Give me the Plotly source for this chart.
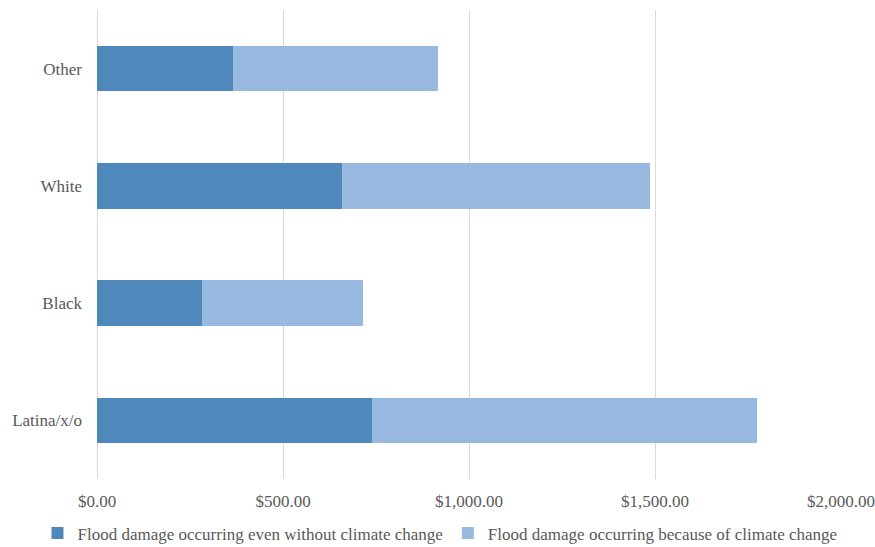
import plotly.graph_objects as go

categories = ["Latina/x/o", "Black", "White", "Other"]
without_cc = [739, 283, 658, 365]
because_cc = [1036, 433, 829, 552]
series_names = ["Flood damage occurring even without climate change",
                "Flood damage occurring because of climate change"]
tick_vals = [0, 500, 1000, 1500, 2000]

dark = "#4F88BB"
light = "#99BAE0"

fig = go.Figure()
fig.add_trace(go.Bar(y=categories, x=without_cc, orientation="h", name=series_names[0],
                     marker=dict(color=dark, line=dict(width=0))))
fig.add_trace(go.Bar(y=categories, x=because_cc, orientation="h", name=series_names[1],
                     marker=dict(color=light, line=dict(width=0))))

font_family = "Liberation Serif"
fsize = 17
fig.update_layout(
    barmode="stack",
    bargap=0.61,
    width=875, height=547,
    margin=dict(l=97, r=34, t=10, b=68, autoexpand=False),
    paper_bgcolor="white", plot_bgcolor="white",
    font=dict(family=font_family, size=fsize, color="#595959"),
    showlegend=True,
    legend=dict(orientation="h", x=-0.08, xanchor="left", y=-0.116, yanchor="middle",
                font=dict(family=font_family, size=fsize, color="#595959"),
                itemwidth=30, traceorder="normal", borderwidth=0),
    xaxis=dict(range=[0, 2000], tickvals=tick_vals, tickformat="$,.2f",
               showgrid=True, gridcolor="#D9D9D9", gridwidth=1,
               zeroline=True, zerolinecolor="#D9D9D9", zerolinewidth=1,
               showline=False, ticks="", ticklabelstandoff=10, automargin=False,
               tickfont=dict(family=font_family, size=fsize, color="#595959")),
    yaxis=dict(showgrid=False, zeroline=False, showline=False, ticks="",
               ticklabelstandoff=14, automargin=False,
               tickfont=dict(family=font_family, size=fsize, color="#595959")),
)

fig.write_html("out.html")
